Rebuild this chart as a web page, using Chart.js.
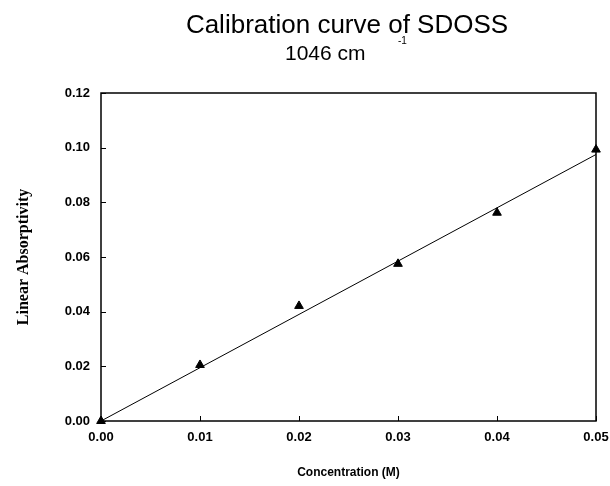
<!DOCTYPE html>
<html>
<head>
<meta charset="utf-8">
<script src="https://cdn.jsdelivr.net/npm/chart.js@4/dist/chart.umd.min.js"></script>
<style>
  html, body { margin: 0; padding: 0; background: #fff; }
  #wrap { width: 610px; height: 486px; }
</style>
</head>
<body>
<div id="wrap"><canvas id="chart" width="610" height="486"></canvas></div>
<script>
// measured points
const concentration = [0.00, 0.01, 0.02, 0.03, 0.04, 0.05];
const absorptivity = [0.000, 0.0205, 0.0421, 0.0575, 0.0762, 0.0993];

// least-squares line as drawn in the figure (end points)
const fitX = [0.00, 0.05];
const fitY = [0.000, 0.0975];

const xTicks = [0.00, 0.01, 0.02, 0.03, 0.04, 0.05];
const yTicks = [0.00, 0.02, 0.04, 0.06, 0.08, 0.10, 0.12];

const sans = "'Liberation Sans', Arial, sans-serif";
const serif = "'Liberation Serif', 'Times New Roman', serif";

// header text, box around plot area and small inward ticks
const framePlugin = {
  id: 'frame',
  beforeDatasetsDraw(chart) {
    const ctx = chart.ctx;
    const a = chart.chartArea;
    const xs = chart.scales.x, ys = chart.scales.y;
    ctx.save();
    ctx.strokeStyle = '#000';
    ctx.lineWidth = 1.5;
    ctx.strokeRect(a.left, a.top, a.right - a.left, a.bottom - a.top);

    ctx.lineWidth = 1;
    ctx.beginPath();
    xTicks.forEach(v => {
      const px = Math.round(xs.getPixelForValue(v)) + 0.5;
      ctx.moveTo(px, a.bottom);
      ctx.lineTo(px, a.bottom - 5);
    });
    yTicks.forEach(v => {
      const py = Math.round(ys.getPixelForValue(v)) + 0.5;
      ctx.moveTo(a.left, py);
      ctx.lineTo(a.left + 5, py);
    });
    ctx.stroke();

    ctx.fillStyle = '#000';
    ctx.textAlign = 'center';
    ctx.textBaseline = 'alphabetic';
    ctx.font = '26px ' + sans;
    ctx.fillText('Calibration curve of SDOSS', 347, 33);
    ctx.font = '21px ' + sans;
    ctx.textAlign = 'left';
    ctx.fillText('1046 cm', 285, 60);
    ctx.font = '10px ' + sans;
    ctx.fillText('-1', 398, 44);
    ctx.restore();
  }
};

new Chart(document.getElementById('chart'), {
  type: 'scatter',
  data: {
    datasets: [
      {
        label: 'fit',
        type: 'line',
        data: fitX.map((x, i) => ({ x: x, y: fitY[i] })),
        borderColor: '#000',
        borderWidth: 1,
        pointRadius: 0,
        fill: false
      },
      {
        label: 'SDOSS',
        data: concentration.map((x, i) => ({ x: x, y: absorptivity[i] })),
        pointStyle: 'triangle',
        pointRadius: 5,
        backgroundColor: '#000',
        borderColor: '#000',
        borderWidth: 1,
        clip: false
      }
    ]
  },
  options: {
    responsive: false,
    animation: false,
    layout: { padding: { top: 93, right: 14, left: 0, bottom: 0 } },
    plugins: {
      legend: { display: false },
      tooltip: { enabled: false },
      title: { display: false }
    },
    scales: {
      x: {
        type: 'linear',
        min: 0,
        max: 0.05,
        afterFit(scale) {
          scale.height = 65;
          scale.paddingLeft = 0;
          scale.paddingRight = 0;
        },
        afterBuildTicks(scale) { scale.ticks = xTicks.map(v => ({ value: v })); },
        grid: { display: false, drawTicks: false },
        border: { display: false },
        ticks: {
          padding: 9,
          color: '#000',
          font: { family: sans, size: 13, weight: 'bold' },
          callback: v => v.toFixed(2)
        },
        title: {
          display: true,
          text: 'Concentration (M)',
          color: '#000',
          font: { family: sans, size: 12, weight: 'bold' },
          padding: { top: 0, bottom: 6 }
        }
      },
      y: {
        type: 'linear',
        min: 0,
        max: 0.12,
        afterFit(scale) {
          scale.width = 101;
          scale.paddingTop = 0;
          scale.paddingBottom = 0;
        },
        afterBuildTicks(scale) { scale.ticks = yTicks.map(v => ({ value: v })); },
        grid: { display: false, drawTicks: false },
        border: { display: false },
        ticks: {
          padding: 11,
          color: '#000',
          font: { family: sans, size: 13, weight: 'bold' },
          callback: v => v.toFixed(2)
        },
        title: {
          display: true,
          text: 'Linear Absorptivity',
          color: '#000',
          font: { family: serif, size: 16, weight: 'bold' },
          padding: { top: 14, bottom: 0 }
        }
      }
    }
  },
  plugins: [framePlugin]
});
</script>
</body>
</html>
